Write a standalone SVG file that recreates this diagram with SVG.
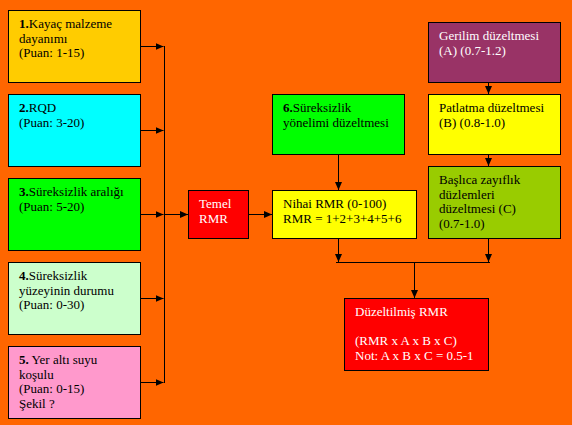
<svg xmlns="http://www.w3.org/2000/svg" width="572" height="425" viewBox="0 0 572 425">
<style>
.b{stroke:#000;stroke-width:1}
text{font-family:"Liberation Serif","Times New Roman",serif;font-size:13px;fill:#000}
text.w{fill:#fff}
.c{stroke:#000;stroke-width:1;fill:none}
</style>
<defs>
<marker id="ah" viewBox="0 0 8 8" refX="8" refY="4" markerWidth="8" markerHeight="8" markerUnits="userSpaceOnUse" orient="auto">
<path d="M0,0.5 L8,4 L0,7.5 Z" fill="#000"/>
</marker>
</defs>
<rect width="572" height="425" fill="#FF6600"/>
<g id="connectors">
<path class="c" d="M140.5,46.5 H163.5" marker-end="url(#ah)"/>
<path class="c" d="M140.5,130.5 H163.5" marker-end="url(#ah)"/>
<path class="c" d="M140.5,214.5 H163.5" marker-end="url(#ah)"/>
<path class="c" d="M140.5,298.5 H163.5" marker-end="url(#ah)"/>
<path class="c" d="M140.5,382.5 H163.5" marker-end="url(#ah)"/>
<path class="c" d="M164.5,46 V383"/>
<path class="c" d="M164.5,214.5 H188" marker-end="url(#ah)"/>
<path class="c" d="M248.5,214.5 H272" marker-end="url(#ah)"/>
<path class="c" d="M338.5,154 V190" marker-end="url(#ah)"/>
<path class="c" d="M488.5,82 V94" marker-end="url(#ah)"/>
<path class="c" d="M488.5,154 V166" marker-end="url(#ah)"/>
<path class="c" d="M338.5,238 V262" marker-end="url(#ah)"/>
<path class="c" d="M488.5,238 V262" marker-end="url(#ah)"/>
<path class="c" d="M336,262.5 H490"/>
<path class="c" d="M414.5,262 V298" marker-end="url(#ah)"/>
</g>
<g id="n1">
<rect class="b" x="8.5" y="10.5" width="132" height="72" fill="#FFCC00"/>
<text x="19" y="28"><tspan font-weight="bold">1.</tspan>Kayaç malzeme</text>
<text x="19" y="42.5">dayanımı</text>
<text x="19" y="57">(Puan: 1-15)</text>
</g>
<g id="n2">
<rect class="b" x="8.5" y="94.5" width="132" height="72" fill="#00FFFF"/>
<text x="19" y="112"><tspan font-weight="bold">2.</tspan>RQD</text>
<text x="19" y="126.5">(Puan: 3-20)</text>
</g>
<g id="n3">
<rect class="b" x="8.5" y="178.5" width="132" height="72" fill="#00FF00"/>
<text x="19" y="196"><tspan font-weight="bold">3.</tspan>Süreksizlik aralığı</text>
<text x="19" y="210.5">(Puan: 5-20)</text>
</g>
<g id="n4">
<rect class="b" x="8.5" y="262.5" width="132" height="72" fill="#CCFFCC"/>
<text x="19" y="280"><tspan font-weight="bold">4.</tspan>Süreksizlik</text>
<text x="19" y="294.5">yüzeyinin durumu</text>
<text x="19" y="309">(Puan: 0-30)</text>
</g>
<g id="n5">
<rect class="b" x="8.5" y="346.5" width="132" height="72" fill="#FF99CC"/>
<text x="19" y="364"><tspan font-weight="bold">5.</tspan> Yer altı suyu</text>
<text x="19" y="378.5">koşulu</text>
<text x="19" y="393">(Puan: 0-15)</text>
<text x="19" y="407.5">Şekil ?</text>
</g>
<g id="temel">
<rect class="b" x="188.5" y="190.5" width="60" height="48" fill="#FF0000"/>
<text class="w" x="199" y="208">Temel</text>
<text class="w" x="199" y="222.5">RMR</text>
</g>
<g id="n6">
<rect class="b" x="272.5" y="94.5" width="132" height="60" fill="#00FF00"/>
<text x="283" y="112"><tspan font-weight="bold">6.</tspan>Süreksizlik</text>
<text x="283" y="126.5">yönelimi düzeltmesi</text>
</g>
<g id="nihai">
<rect class="b" x="272.5" y="190.5" width="144" height="48" fill="#FFFF00"/>
<text x="283" y="208">Nihai RMR (0-100)</text>
<text x="283" y="222.5">RMR = 1+2+3+4+5+6</text>
</g>
<g id="gerilim">
<rect class="b" x="428.5" y="22.5" width="132" height="60" fill="#993366"/>
<text class="w" x="439" y="40">Gerilim düzeltmesi</text>
<text class="w" x="439" y="54.5">(A) (0.7-1.2)</text>
</g>
<g id="patlatma">
<rect class="b" x="428.5" y="94.5" width="132" height="60" fill="#FFFF00"/>
<text x="439" y="112">Patlatma düzeltmesi</text>
<text x="439" y="126.5">(B) (0.8-1.0)</text>
</g>
<g id="baslica">
<rect class="b" x="428.5" y="166.5" width="132" height="72" fill="#99CC00"/>
<text x="439" y="184">Başlıca zayıflık</text>
<text x="439" y="198.5">düzlemleri</text>
<text x="439" y="213">düzeltmesi (C)</text>
<text x="439" y="227.5">(0.7-1.0)</text>
</g>
<g id="duzeltilmis">
<rect class="b" x="344.5" y="298.5" width="144" height="72" fill="#FF0000"/>
<text class="w" x="355" y="316">Düzeltilmiş RMR</text>
<text class="w" x="355" y="345">(RMR x A x B x C)</text>
<text class="w" x="355" y="359.5">Not: A x B x C = 0.5-1</text>
</g>
</svg>
